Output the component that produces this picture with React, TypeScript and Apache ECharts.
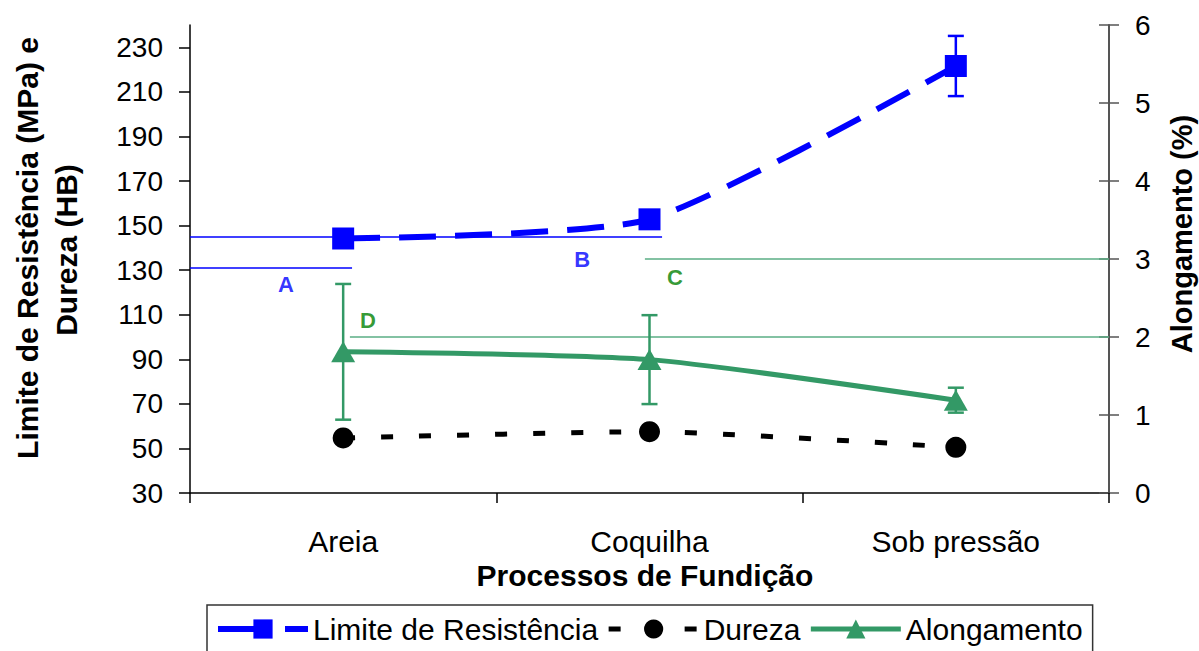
import React, { useEffect, useRef } from "react";
import * as echarts from "echarts";

const categories = ["Areia", "Coquilha", "Sob pressão"];
const limite = [144.2, 152.8, 221.6];
const limiteErr = [0, 0, 13.5];
const dureza = [54.7, 57.5, 50.5];
const alongamento = [1.81, 1.71, 1.19];
const alongamentoErr = [0.87, 0.57, 0.16];
const leftTicks = [30, 50, 70, 90, 110, 130, 150, 170, 190, 210, 230];
// annotation lines: [x0, x1, value] on hidden 0..3 x scale
const refBlue = [
  [0, 1.541, 144.9],
  [0, 0.529, 131.0],
];
const refGreen = [
  [1.485, 3, 3.0],
  [0.522, 3, 2.0],
];
const labelsBlue = [
  ["A", 0.313, 123.5],
  ["B", 1.28, 134.7],
];
const labelsGreen = [
  ["C", 1.583, 2.76],
  ["D", 0.581, 2.21],
];

const FONT = '"Liberation Sans", Arial, sans-serif';
const BLUE = "#0000FF";
const GREEN = "#339966";

function errRender(color: string, lw: number) {
  return (params: any, api: any) => {
    const x = api.value(0);
    const v = api.value(1);
    const e = api.value(2);
    const top = api.coord([x, v + e]);
    const bot = api.coord([x, v - e]);
    const cap = 8;
    const st = { stroke: color, lineWidth: lw };
    return {
      type: "group",
      children: [
        { type: "line", shape: { x1: top[0], y1: top[1], x2: bot[0], y2: bot[1] }, style: st },
        { type: "line", shape: { x1: top[0] - cap, y1: top[1], x2: top[0] + cap, y2: top[1] }, style: st },
        { type: "line", shape: { x1: bot[0] - cap, y1: bot[1], x2: bot[0] + cap, y2: bot[1] }, style: st },
      ],
    };
  };
}

export default function App() {
  const ref = useRef<HTMLDivElement>(null);
  useEffect(() => {
    if (!ref.current) return;
    const chart = echarts.init(ref.current, null, { renderer: "svg" });
    const refSeries: any[] = [];
    refBlue.forEach((r) =>
      refSeries.push({
        type: "line",
        xAxisIndex: 1,
        yAxisIndex: 0,
        data: [[r[0], r[2]], [r[1], r[2]]],
        symbol: "none",
        silent: true,
        z: 1,
        lineStyle: { color: BLUE, width: 1.5 },
      })
    );
    refGreen.forEach((r) =>
      refSeries.push({
        type: "line",
        xAxisIndex: 1,
        yAxisIndex: 1,
        data: [[r[0], r[2]], [r[1], r[2]]],
        symbol: "none",
        silent: true,
        z: 1,
        lineStyle: { color: "#5aae85", width: 1.5 },
      })
    );
    const labelSeries = (arr: any[], yIdx: number, color: string) => ({
      type: "scatter",
      xAxisIndex: 1,
      yAxisIndex: yIdx,
      symbolSize: 0,
      silent: true,
      data: arr.map((l) => ({ name: l[0], value: [l[1], l[2]] })),
      label: {
        show: true,
        position: "inside",
        formatter: "{b}",
        color,
        fontWeight: "bold",
        fontSize: 22,
        fontFamily: FONT,
      },
    });

    const titleStyle = {
      fontSize: 30,
      fontWeight: "bold",
      fontFamily: FONT,
      fill: "#000",
      align: "center",
      verticalAlign: "middle",
    };

    chart.setOption({
      animation: false,
      backgroundColor: "#fff",
      textStyle: { fontFamily: FONT },
      grid: { left: 190, right: 90, top: 25, bottom: 158, containLabel: false },
      legend: {
        data: [
          { name: "Limite de Resistência", lineStyle: { width: 6, type: [52, 15] } },
          { name: "Dureza", lineStyle: { width: 5, type: [12, 26] } },
          { name: "Alongamento", lineStyle: { width: 5 } },
        ],
        left: 207,
        top: 605,
        orient: "horizontal",
        itemWidth: 90,
        itemHeight: 24,
        itemGap: 8,
        padding: [9, 10, 14, 8],
        borderColor: "#333",
        borderWidth: 1.5,
        textStyle: { fontSize: 30, color: "#000", fontFamily: FONT },
      },
      xAxis: [
        {
          type: "category",
          data: categories,
          position: "bottom",
          axisLine: { lineStyle: { color: "#000", width: 1.5 } },
          axisTick: { show: true, length: 10, lineStyle: { color: "#000", width: 1.5 } },
          axisLabel: { fontSize: 30, color: "#000", margin: 33, fontFamily: FONT },
          splitLine: { show: false },
        },
        { type: "value", min: 0, max: 3, show: false },
      ],
      yAxis: [
        {
          type: "value",
          min: 30,
          max: 240,
          position: "left",
          axisLine: { show: true, lineStyle: { color: "#000", width: 1.5 } },
          axisTick: { show: true, length: 11, customValues: leftTicks, lineStyle: { color: "#000", width: 1.5 } },
          axisLabel: { fontSize: 28, color: "#000", margin: 27, customValues: leftTicks, fontFamily: FONT },
          splitLine: { show: false },
        },
        {
          type: "value",
          min: 0,
          max: 6,
          interval: 1,
          position: "right",
          axisLine: { show: true, lineStyle: { color: "#555", width: 2 } },
          axisTick: { show: true, length: 10, lineStyle: { color: "#555", width: 1.5 } },
          axisLabel: { fontSize: 28, color: "#000", margin: 26, fontFamily: FONT },
          splitLine: { show: false },
        },
        {
          type: "value",
          min: 0,
          max: 6,
          interval: 1,
          position: "right",
          axisLine: { show: false },
          axisTick: { show: true, inside: true, length: 10, lineStyle: { color: "#555", width: 1.5 } },
          axisLabel: { show: false },
          splitLine: { show: false },
        },
      ],
      graphic: [
        {
          type: "text",
          x: 27,
          y: 248,
          rotation: Math.PI / 2,
          style: { ...titleStyle, text: "Limite de Resistência (MPa) e" },
        },
        {
          type: "text",
          x: 66,
          y: 250,
          rotation: Math.PI / 2,
          style: { ...titleStyle, text: "Dureza (HB)" },
        },
        {
          type: "text",
          x: 1182,
          y: 234,
          rotation: Math.PI / 2,
          style: { ...titleStyle, fontSize: 29, text: "Alongamento (%)" },
        },
        {
          type: "text",
          x: 645,
          y: 575,
          style: { ...titleStyle, text: "Processos de Fundição" },
        },
      ],
      series: [
        ...refSeries,
        labelSeries(labelsBlue, 0, BLUE),
        labelSeries(labelsGreen, 1, "#008000"),
        {
          type: "custom",
          xAxisIndex: 0,
          yAxisIndex: 0,
          silent: true,
          z: 2,
          renderItem: errRender(BLUE, 2.5),
          data: limite
            .map((v, i) => [i, v, limiteErr[i]])
            .filter((d) => d[2] > 0),
        },
        {
          type: "custom",
          xAxisIndex: 0,
          yAxisIndex: 1,
          silent: true,
          z: 2,
          renderItem: errRender(GREEN, 2.5),
          data: alongamento.map((v, i) => [i, v, alongamentoErr[i]]),
        },
        {
          name: "Limite de Resistência",
          type: "line",
          xAxisIndex: 0,
          yAxisIndex: 0,
          data: limite,
          smooth: 0.2,
          symbol: "rect",
          symbolSize: 22,
          z: 5,
          itemStyle: { color: BLUE },
          lineStyle: { color: BLUE, width: 6, type: [37, 19] },
        },
        {
          name: "Dureza",
          type: "line",
          xAxisIndex: 0,
          yAxisIndex: 0,
          data: dureza,
          smooth: 0.2,
          symbol: "circle",
          symbolSize: 21,
          z: 5,
          itemStyle: { color: "#000" },
          lineStyle: { color: "#000", width: 5, type: [12, 26] },
        },
        {
          name: "Alongamento",
          type: "line",
          xAxisIndex: 0,
          yAxisIndex: 1,
          data: alongamento,
          smooth: 0.2,
          symbol: "triangle",
          symbolSize: [24, 21],
          z: 5,
          itemStyle: { color: GREEN },
          lineStyle: { color: GREEN, width: 5 },
        },
      ],
    });
    return () => chart.dispose();
  }, []);
  return (
    <div
      ref={ref}
      style={{ position: "fixed", left: 0, top: 0, width: 1199, height: 651, background: "#fff" }}
    />
  );
}
